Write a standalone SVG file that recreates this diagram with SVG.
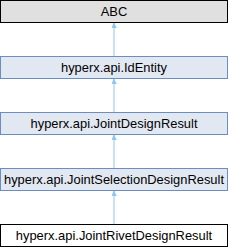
<svg xmlns="http://www.w3.org/2000/svg" width="228" height="248" viewBox="0 0 228 248">
<defs>
<style>
.blue rect{fill:#e2e8f2;stroke:#6c8ebf;stroke-width:1}
.gray rect{fill:#e0e0e0;stroke:#000;stroke-width:1}
.white rect{fill:#fff;stroke:#000;stroke-width:1}
text{font-family:"Liberation Sans",Arial,sans-serif;font-size:12.9px;fill:#000;text-anchor:middle}
.edge{stroke:#8fc6ea;stroke-width:1;fill:none}
</style>
<marker id="ah" viewBox="0 0 10 10" refX="10" refY="5" markerWidth="5" markerHeight="5" orient="auto" markerUnits="userSpaceOnUse">
<path d="M0,0 L10,5 L0,10 z" fill="#8fc6ea" stroke="#8fc6ea"/>
</marker>
</defs>
<g id="connectors">
<path class="edge" d="M114,56.5 V23" marker-end="url(#ah)"/>
<path class="edge" d="M114,112.5 V79" marker-end="url(#ah)"/>
<path class="edge" d="M114,168.5 V135" marker-end="url(#ah)"/>
<path class="edge" d="M114,224.5 V191" marker-end="url(#ah)"/>
</g>
<g id="abc" class="gray"><rect x="0.5" y="0.5" width="227" height="22"/><text x="114" y="16">ABC</text></g>
<g id="identity" class="blue"><rect x="0.5" y="56.5" width="227" height="22"/><text x="114" y="72">hyperx.api.IdEntity</text></g>
<g id="jointdesignresult" class="blue"><rect x="0.5" y="112.5" width="227" height="22"/><text x="114" y="128">hyperx.api.JointDesignResult</text></g>
<g id="jointselectiondesignresult" class="blue"><rect x="0.5" y="168.5" width="227" height="22"/><text x="114" y="184">hyperx.api.JointSelectionDesignResult</text></g>
<g id="jointrivetdesignresult" class="white"><rect x="0.5" y="224.5" width="227" height="22"/><text x="114" y="240">hyperx.api.JointRivetDesignResult</text></g>
</svg>
